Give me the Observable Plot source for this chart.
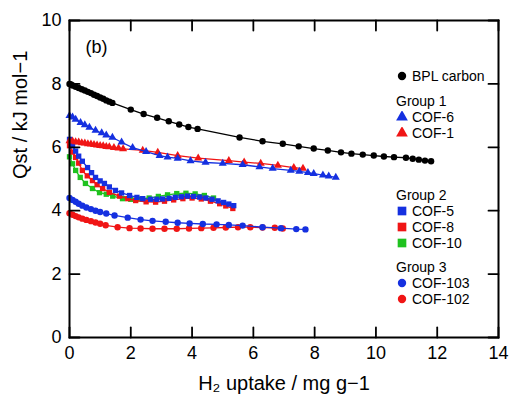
<!DOCTYPE html>
<html>
<head>
<meta charset="utf-8">
<script src="https://cdn.jsdelivr.net/npm/d3@7"></script>
<script src="https://cdn.jsdelivr.net/npm/@observablehq/plot@0.6"></script>
<style>
  html, body { margin: 0; padding: 0; background: #fff; }
  #wrap { position: relative; width: 512px; height: 395px; font-family: "Liberation Sans", Arial, sans-serif; }
  #legend { position: absolute; left: 0; top: 0; width: 512px; height: 395px; pointer-events: none; }
  .lg { position: absolute; font-size: 14px; line-height: 14px; height: 14px; color: #000; white-space: nowrap; }
  .lg svg { position: absolute; left: -16px; top: 1px; }
</style>
</head>
<body>
<div id="wrap"><div id="legend"></div></div>
<script>
// ---------- data ----------
const xTicks = [0, 2, 4, 6, 8, 10, 12, 14];
const yTicks = [0, 2, 4, 6, 8, 10];

const bplX = [0, 0.05, 0.1, 0.2, 0.3, 0.4, 0.5, 0.6, 0.7, 0.8, 0.9, 1.0, 1.1, 1.2, 1.3, 1.4, 2.0, 2.42, 2.86, 3.24, 3.58, 3.88, 4.18, 5.55, 6.3, 6.96, 7.48, 7.97, 8.43, 8.86, 9.2, 9.57, 9.93, 10.26, 10.59, 10.98, 11.2, 11.4, 11.6, 11.8];
const bplY = [8.0, 7.98, 7.95, 7.91, 7.87, 7.83, 7.79, 7.75, 7.71, 7.66, 7.62, 7.57, 7.53, 7.48, 7.44, 7.40, 7.19, 7.05, 6.93, 6.82, 6.72, 6.64, 6.58, 6.31, 6.19, 6.11, 6.03, 5.96, 5.9, 5.84, 5.8, 5.77, 5.74, 5.71, 5.69, 5.67, 5.64, 5.61, 5.58, 5.56];

const cof6X = [0, 0.1, 0.2, 0.36, 0.5, 0.65, 0.85, 1.05, 1.2, 1.4, 1.7, 2.06, 2.5, 2.94, 3.2, 3.53, 3.95, 4.44, 5.0, 5.65, 6.2, 6.63, 7.22, 7.5, 7.78, 7.97, 8.27, 8.46, 8.69];
const cof6Y = [7.0, 6.95, 6.88, 6.78, 6.71, 6.63, 6.53, 6.45, 6.38, 6.31, 6.16, 5.99, 5.86, 5.74, 5.69, 5.65, 5.57, 5.52, 5.49, 5.45, 5.38, 5.33, 5.27, 5.24, 5.2, 5.17, 5.12, 5.09, 5.05];

const cof1X = [0, 0.1, 0.2, 0.3, 0.4, 0.5, 0.6, 0.7, 0.8, 0.9, 1.0, 1.1, 1.2, 1.3, 1.45, 1.6, 1.75, 2.39, 2.88, 3.53, 4.2, 5.2, 5.7, 6.24, 6.8, 7.32, 7.62];
const cof1Y = [6.2, 6.19, 6.17, 6.16, 6.14, 6.13, 6.11, 6.1, 6.08, 6.07, 6.05, 6.04, 6.02, 6.01, 5.99, 5.97, 5.95, 5.9, 5.84, 5.74, 5.66, 5.58, 5.53, 5.49, 5.43, 5.36, 5.33];

const cof5X = [0, 0.1, 0.2, 0.3, 0.42, 0.59, 0.72, 0.85, 1.0, 1.14, 1.3, 1.5, 1.7, 1.96, 2.2, 2.39, 2.65, 2.85, 3.04, 3.25, 3.45, 3.65, 3.85, 4.05, 4.25, 4.45, 4.65, 4.85, 5.03, 5.2, 5.36];
const cof5Y = [6.25, 6.05, 5.88, 5.72, 5.56, 5.36, 5.2, 5.05, 4.94, 4.86, 4.75, 4.64, 4.56, 4.48, 4.42, 4.38, 4.36, 4.36, 4.37, 4.39, 4.42, 4.44, 4.46, 4.45, 4.43, 4.4, 4.36, 4.31, 4.26, 4.21, 4.16];

const cof8X = [0, 0.1, 0.2, 0.3, 0.42, 0.58, 0.75, 0.9, 1.08, 1.3, 1.63, 1.9, 2.16, 2.5, 2.81, 3.1, 3.4, 3.7, 4.0, 4.3, 4.6, 4.9, 5.1, 5.33];
const cof8Y = [6.05, 5.85, 5.68, 5.5, 5.27, 5.1, 4.95, 4.82, 4.7, 4.58, 4.46, 4.38, 4.32, 4.28, 4.27, 4.3, 4.34, 4.38, 4.4, 4.37, 4.3, 4.22, 4.15, 4.07];

const cof10X = [0, 0.1, 0.2, 0.35, 0.52, 0.75, 0.98, 1.2, 1.41, 1.73, 2.0, 2.3, 2.6, 2.9, 3.2, 3.5, 3.8, 4.1, 4.4, 4.7];
const cof10Y = [5.7, 5.48, 5.27, 5.05, 4.86, 4.7, 4.57, 4.52, 4.46, 4.38, 4.36, 4.37, 4.4, 4.45, 4.5, 4.54, 4.55, 4.53, 4.48, 4.4];

const cof103X = [0, 0.1, 0.2, 0.3, 0.42, 0.55, 0.7, 0.85, 1.0, 1.2, 1.47, 1.9, 2.32, 2.71, 3.14, 3.53, 3.92, 4.35, 4.8, 5.2, 5.65, 6.3, 6.9, 7.4, 7.7];
const cof103Y = [4.4, 4.34, 4.28, 4.22, 4.16, 4.1, 4.05, 4.0, 3.96, 3.91, 3.85, 3.78, 3.72, 3.68, 3.65, 3.62, 3.6, 3.58, 3.57, 3.55, 3.53, 3.48, 3.45, 3.42, 3.41];

const cof102X = [0, 0.1, 0.2, 0.3, 0.42, 0.55, 0.7, 0.85, 1.0, 1.18, 1.57, 1.96, 2.32, 2.71, 3.1, 3.5, 3.9, 4.3, 4.7, 5.1, 5.5, 5.9, 6.3, 6.7, 6.96];
const cof102Y = [3.92, 3.87, 3.83, 3.79, 3.75, 3.71, 3.67, 3.63, 3.59, 3.54, 3.48, 3.45, 3.44, 3.43, 3.43, 3.43, 3.44, 3.45, 3.46, 3.47, 3.48, 3.48, 3.47, 3.46, 3.44];

const BLACK = "#000000", BLUE = "#1530e0", RED = "#f01515", GREEN = "#1fc21f";

// draw order matters (later on top)
const series = [
  {name: "BPL carbon", xs: bplX, ys: bplY, color: BLACK, symbol: "circle"},
  {name: "COF-10", xs: cof10X, ys: cof10Y, color: GREEN, symbol: "square"},
  {name: "COF-8", xs: cof8X, ys: cof8Y, color: RED, symbol: "square"},
  {name: "COF-5", xs: cof5X, ys: cof5Y, color: BLUE, symbol: "square"},
  {name: "COF-102", xs: cof102X, ys: cof102Y, color: RED, symbol: "circle"},
  {name: "COF-103", xs: cof103X, ys: cof103Y, color: BLUE, symbol: "circle"},
  {name: "COF-1", xs: cof1X, ys: cof1Y, color: RED, symbol: "triangle"},
  {name: "COF-6", xs: cof6X, ys: cof6Y, color: BLUE, symbol: "triangle"}
];

const legendRows = [
  {type: "item", label: "BPL carbon", color: BLACK, symbol: "circle"},
  {type: "group", label: "Group 1"},
  {type: "item", label: "COF-6", color: BLUE, symbol: "triangle"},
  {type: "item", label: "COF-1", color: RED, symbol: "triangle"},
  {type: "group", label: "Group 2"},
  {type: "item", label: "COF-5", color: BLUE, symbol: "square"},
  {type: "item", label: "COF-8", color: RED, symbol: "square"},
  {type: "item", label: "COF-10", color: GREEN, symbol: "square"},
  {type: "group", label: "Group 3"},
  {type: "item", label: "COF-103", color: BLUE, symbol: "circle"},
  {type: "item", label: "COF-102", color: RED, symbol: "circle"}
];
const legendTops = [69, 94, 110, 126, 188, 204, 220, 236, 260, 276, 292];

// ---------- chart ----------
const marks = [];
for (const s of series) {
  const data = s.xs.map((x, i) => ({x, y: s.ys[i]}));
  marks.push(Plot.line(data, {x: "x", y: "y", stroke: s.color, strokeWidth: 1.3}));
  marks.push(Plot.dot(data, {x: "x", y: "y", fill: s.color, stroke: "none", symbol: s.symbol, r: s.symbol === "circle" ? 3.2 : 3}));
}

// inward tick marks, drawn as short vectors anchored on the frame
const tickShape = {draw(ctx, l) { ctx.moveTo(0, 0); ctx.lineTo(0, -l); }};
const tickStyle = {length: 10, shape: tickShape, anchor: "start", stroke: "#000", strokeWidth: 1.8};

const chart = Plot.plot({
  width: 512,
  height: 395,
  marginLeft: 69,
  marginRight: 14,
  marginTop: 20,
  marginBottom: 58,
  style: {fontFamily: "Liberation Sans, Arial, sans-serif", background: "#fff", color: "#000"},
  x: {domain: [0, 14]},
  y: {domain: [0, 10]},
  marks: [
    ...marks,
    Plot.vector(xTicks, {x: d => d, frameAnchor: "bottom", rotate: 0, ...tickStyle}),
    Plot.vector(xTicks, {x: d => d, frameAnchor: "top", rotate: 180, ...tickStyle}),
    Plot.vector(yTicks, {y: d => d, frameAnchor: "left", rotate: 90, ...tickStyle}),
    Plot.vector(yTicks, {y: d => d, frameAnchor: "right", rotate: 270, ...tickStyle}),
    Plot.axisX({anchor: "bottom", ticks: xTicks, tickSize: 0, tickPadding: 9, fontSize: 18, label: null}),
    Plot.axisY({anchor: "left", ticks: yTicks, tickSize: 0, tickPadding: 8, fontSize: 18, label: null}),
    Plot.frame({stroke: "#000", strokeWidth: 2}),
    Plot.text(["(b)"], {frameAnchor: "top-left", dx: 16, dy: 20, fontSize: 18, textAnchor: "start"}),
    Plot.text(["H₂ uptake / mg g−1"], {frameAnchor: "bottom", dy: 52, fontSize: 20}),
    Plot.text(["Qst / kJ mol−1"], {frameAnchor: "left", dx: -49, rotate: -90, fontSize: 20})
  ]
});
document.getElementById("wrap").prepend(chart);

// ---------- legend ----------
const leg = document.getElementById("legend");
legendRows.forEach((r, i) => {
  const div = document.createElement("div");
  div.className = "lg";
  div.style.top = legendTops[i] + "px";
  div.style.left = (r.type === "group" ? 396 : 412) + "px";
  div.textContent = r.label;
  if (r.type === "item") {
    const sym = {circle: d3.symbolCircle, square: d3.symbolSquare, triangle: d3.symbolTriangle}[r.symbol];
    const size = {circle: 55, square: 75, triangle: 60}[r.symbol];
    const svg = d3.create("svg").attr("width", 12).attr("height", 12);
    svg.append("path").attr("transform", "translate(6,6)").attr("d", d3.symbol(sym, size)()).attr("fill", r.color);
    div.prepend(svg.node());
  }
  leg.appendChild(div);
});
</script>
</body>
</html>
